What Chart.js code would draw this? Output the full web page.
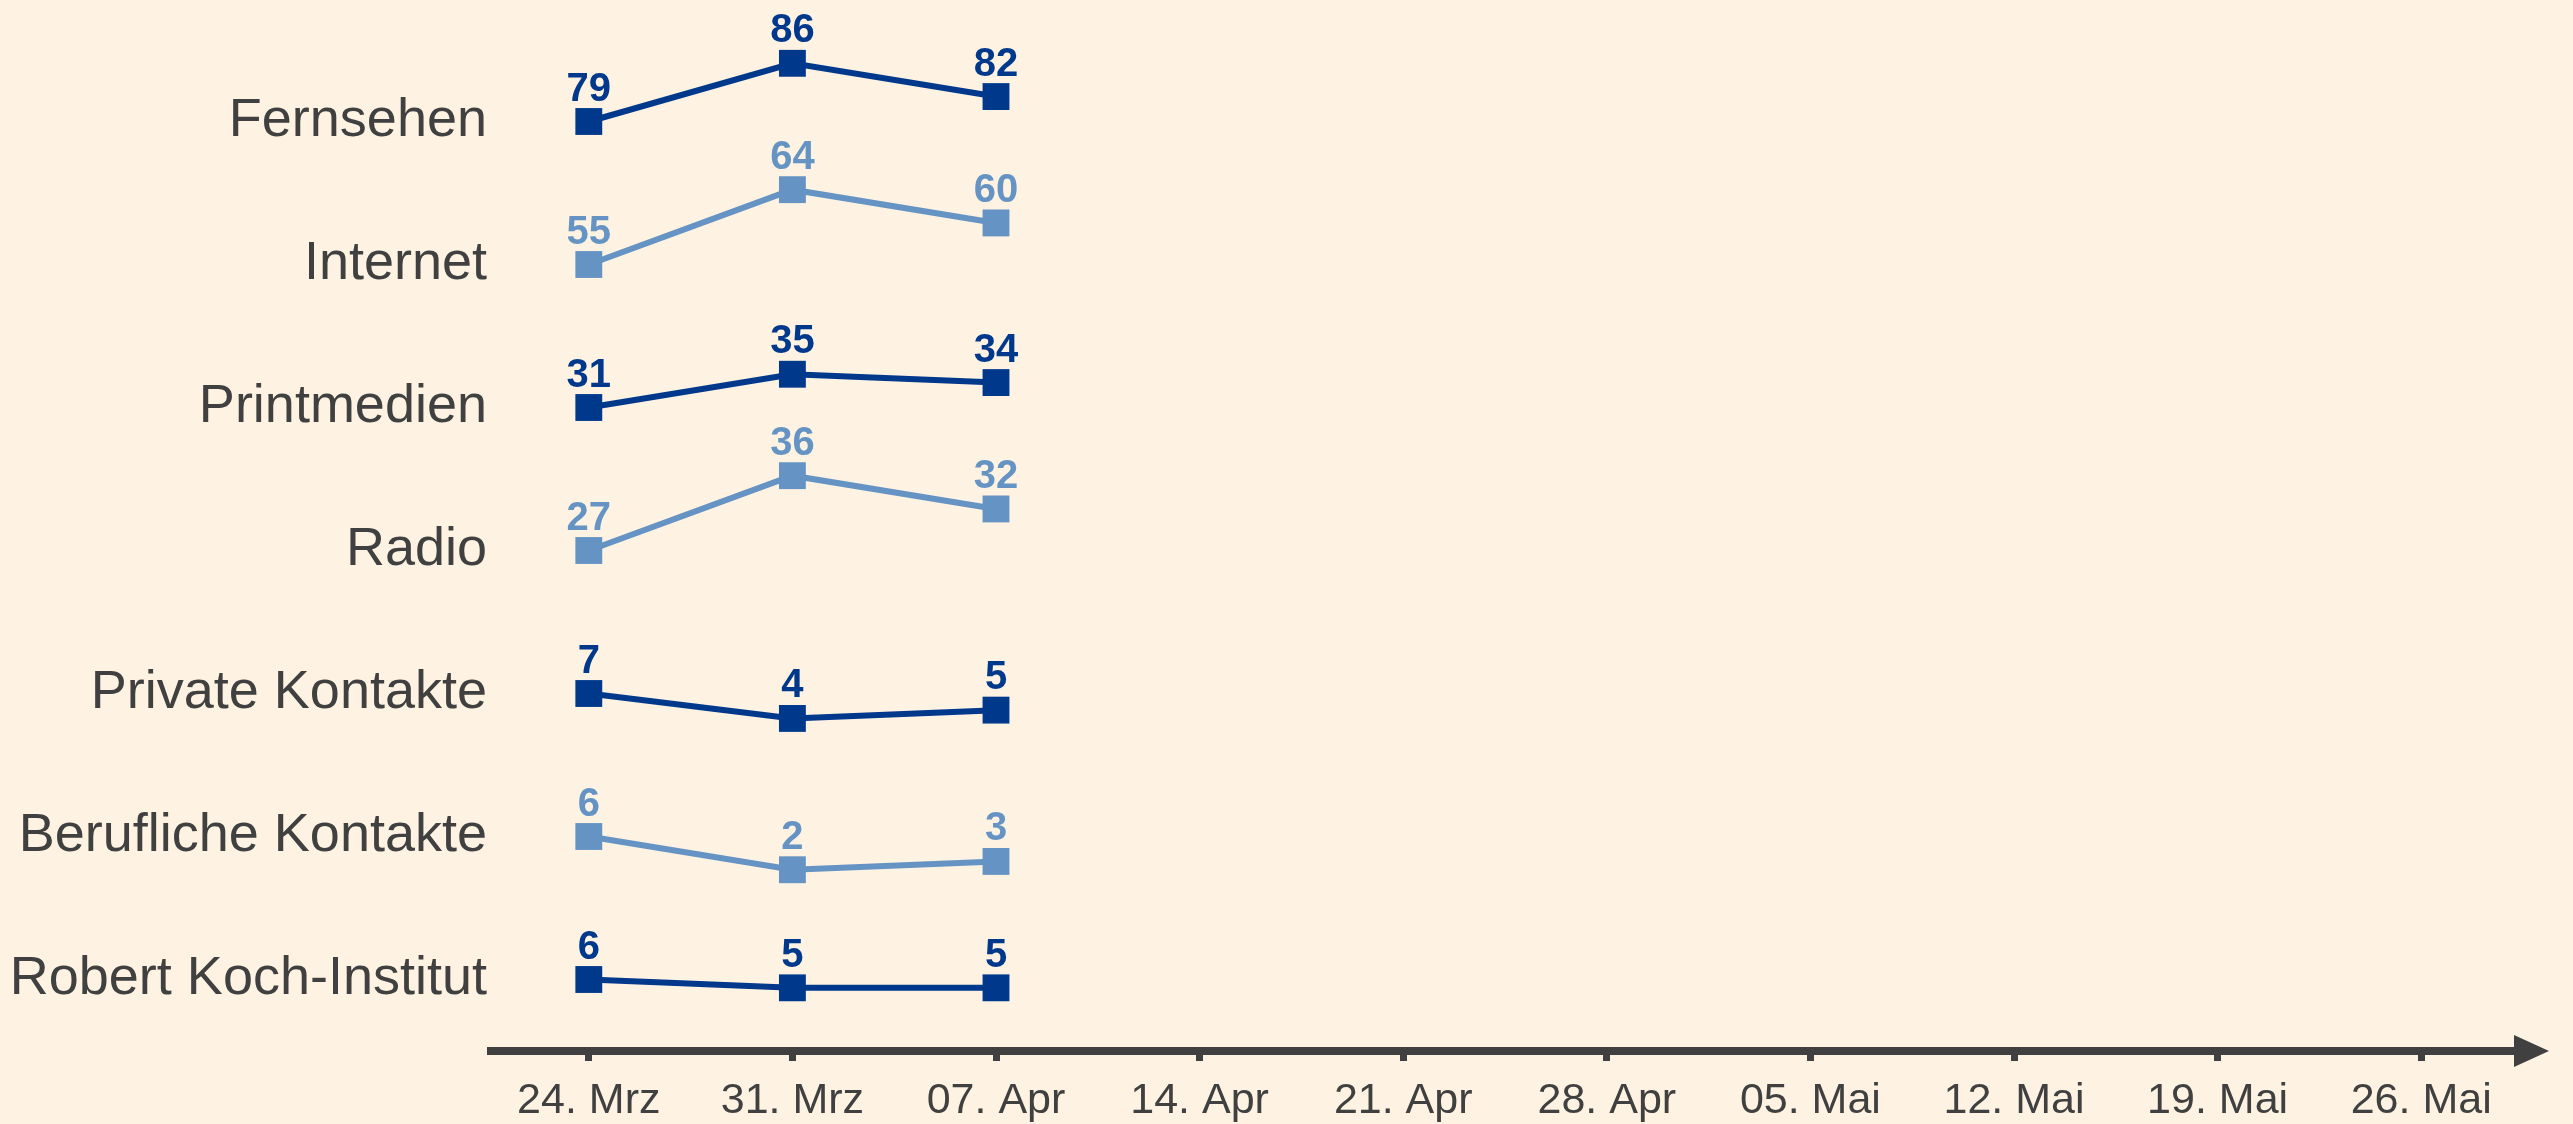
<!DOCTYPE html>
<html>
<head>
<meta charset="utf-8">
<script src="https://cdn.jsdelivr.net/npm/chart.js@4"></script>
<style>
  html, body { margin: 0; padding: 0; background: #fef3e2; }
  #wrap { width: 2573px; height: 1124px; }
</style>
</head>
<body>
<div id="wrap"><canvas id="mediaChart" width="2573" height="1124"></canvas></div>
<script>
// survey weeks on the x axis
const dates = ['24. Mrz', '31. Mrz', '07. Apr', '14. Apr', '21. Apr', '28. Apr', '05. Mai', '12. Mai', '19. Mai', '26. Mai'];

// information sources, top to bottom
const sources = ['Fernsehen', 'Internet', 'Printmedien', 'Radio', 'Private Kontakte', 'Berufliche Kontakte', 'Robert Koch-Institut'];

// values per source (percent)
const fernsehen = [79, 86, 82];
const internet = [55, 64, 60];
const printmedien = [31, 35, 34];
const radio = [27, 36, 32];
const privateKontakte = [7, 4, 5];
const beruflicheKontakte = [6, 2, 3];
const rki = [6, 5, 5];

const values = [fernsehen, internet, printmedien, radio, privateKontakte, beruflicheKontakte, rki];

const darkBlue = '#00388c';
const lightBlue = '#6593c4';
const textGrey = '#404040';
const halfBand = 8.6; // units above/below the first value in each row

const datasets = [];
const scales = {
    x: {
        type: 'category',
        position: 'bottom',
        offset: true,
        grid: {
            display: true,
            drawOnChartArea: false,
            drawTicks: true,
            tickLength: 10,
            lineWidth: 7,
            color: textGrey
        },
        border: { display: false },
        ticks: {
            color: textGrey,
            font: { family: 'Liberation Sans', size: 43 },
            padding: 14,
            autoSkip: false,
            maxRotation: 0
        },
        afterFit: function (scale) { scale.height = 73; }
    }
};

sources.forEach(function (name, i) {
    const id = 'y' + i;
    const first = values[i][0];
    const color = i % 2 === 0 ? darkBlue : lightBlue;
    datasets.push({
        label: name,
        data: values[i],
        yAxisID: id,
        borderColor: color,
        backgroundColor: color,
        borderWidth: 6,
        pointStyle: 'rect',
        pointRadius: 19,
        pointHoverRadius: 19,
        pointBorderWidth: 0,
        tension: 0,
        clip: false
    });
    scales[id] = {
        type: 'linear',
        position: 'left',
        stack: 'rows',
        stackWeight: 1,
        weight: sources.length - i,
        min: first - halfBand,
        max: first + halfBand,
        grid: { display: false, drawTicks: false },
        border: { display: false },
        ticks: {
            color: textGrey,
            font: { family: 'Liberation Sans', size: 54 },
            padding: 0,
            callback: function () { return name; }
        },
        afterBuildTicks: function (axis) { axis.ticks = [{ value: first }]; },
        afterFit: function (scale) { scale.width = 487; }
    };
});

// x axis line with arrow head
const axisArrow = {
    id: 'axisArrow',
    afterDraw: function (chart) {
        const ctx = chart.ctx;
        const area = chart.chartArea;
        const y = area.bottom;
        const tip = area.right + 26;
        ctx.save();
        ctx.strokeStyle = textGrey;
        ctx.fillStyle = textGrey;
        ctx.lineWidth = 8;
        ctx.beginPath();
        ctx.moveTo(area.left, y);
        ctx.lineTo(tip - 30, y);
        ctx.stroke();
        ctx.beginPath();
        ctx.moveTo(tip - 35, y - 16);
        ctx.lineTo(tip, y);
        ctx.lineTo(tip - 35, y + 16);
        ctx.closePath();
        ctx.fill();
        ctx.restore();
    }
};

// value labels above the markers
const valueLabels = {
    id: 'valueLabels',
    afterDatasetsDraw: function (chart) {
        const ctx = chart.ctx;
        ctx.save();
        ctx.font = 'bold 40px "Liberation Sans"';
        ctx.textAlign = 'center';
        ctx.textBaseline = 'alphabetic';
        chart.data.datasets.forEach(function (ds, i) {
            const meta = chart.getDatasetMeta(i);
            ctx.fillStyle = ds.borderColor;
            meta.data.forEach(function (pt, j) {
                ctx.fillText(String(ds.data[j]), pt.x, pt.y - 21);
            });
        });
        ctx.restore();
    }
};

new Chart(document.getElementById('mediaChart'), {
    type: 'line',
    data: { labels: dates, datasets: datasets },
    options: {
        responsive: false,
        animation: false,
        layout: { padding: { top: 50, right: 50, left: 0, bottom: 0 } },
        plugins: {
            legend: { display: false },
            tooltip: { enabled: false }
        },
        scales: scales
    },
    plugins: [axisArrow, valueLabels]
});
</script>
</body>
</html>
